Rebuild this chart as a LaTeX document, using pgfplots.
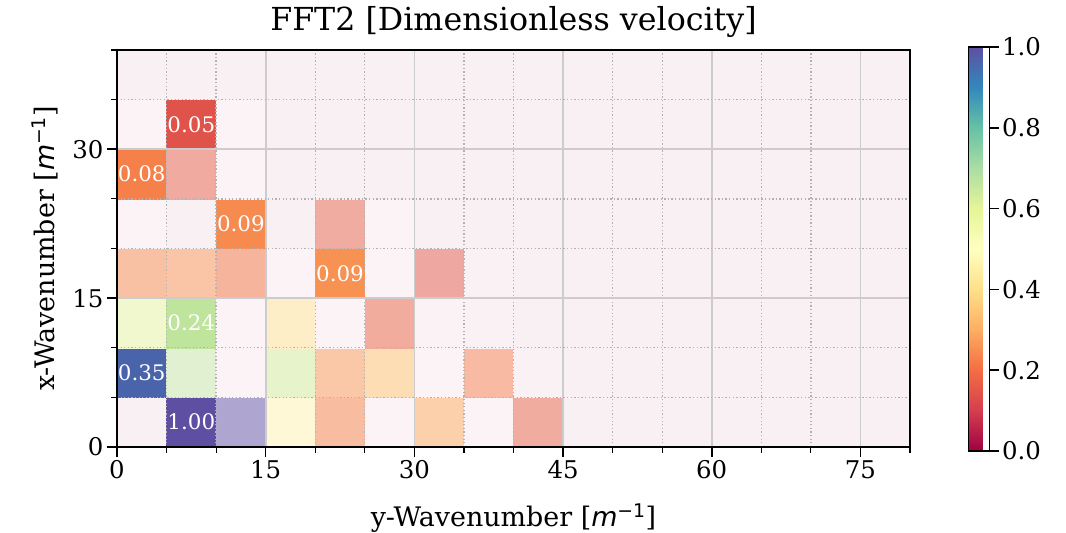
\documentclass[border=0pt]{standalone}
\usepackage{pgfplots}
\pgfplotsset{compat=1.18}
\usepackage{fontspec}
\setmainfont{DejaVu Serif}
\newfontfamily\dvsans{DejaVu Sans}

% matplotlib "Spectral"
\pgfplotsset{
  colormap={spectral}{
    rgb255(0cm)=(158,1,66); rgb255(1cm)=(213,62,79); rgb255(2cm)=(244,109,67);
    rgb255(3cm)=(253,174,97); rgb255(4cm)=(254,224,139); rgb255(5cm)=(255,255,191);
    rgb255(6cm)=(230,245,152); rgb255(7cm)=(171,221,164); rgb255(8cm)=(102,194,165);
    rgb255(9cm)=(50,136,189); rgb255(10cm)=(94,79,162)
  },
}

% bin corners (5 x 5 bins); each bin takes the colour of its lower-left corner,
% the last column (x=80) and last row (y=40) only close the mesh
\pgfplotstableread{
x y C
0 0 rgb=0.976,0.941,0.953
5 0 rgb=0.369,0.310,0.635
10 0 rgb=0.682,0.651,0.820
15 0 rgb=0.996,0.973,0.839
20 0 rgb=0.973,0.737,0.627
25 0 rgb=0.984,0.953,0.961
30 0 rgb=0.988,0.816,0.667
35 0 rgb=0.984,0.953,0.961
40 0 rgb=0.941,0.675,0.620
45 0 rgb=0.973,0.941,0.953
50 0 rgb=0.973,0.941,0.953
55 0 rgb=0.973,0.941,0.953
60 0 rgb=0.973,0.941,0.953
65 0 rgb=0.973,0.941,0.953
70 0 rgb=0.973,0.941,0.953
75 0 rgb=0.973,0.941,0.953
80 0 rgb=0.973,0.941,0.953
0 5 rgb=0.290,0.392,0.671
5 5 rgb=0.878,0.941,0.816
10 5 rgb=0.984,0.953,0.961
15 5 rgb=0.902,0.953,0.796
20 5 rgb=0.980,0.784,0.655
25 5 rgb=0.988,0.867,0.706
30 5 rgb=0.984,0.953,0.961
35 5 rgb=0.973,0.729,0.635
40 5 rgb=0.976,0.945,0.957
45 5 rgb=0.973,0.941,0.953
50 5 rgb=0.973,0.941,0.953
55 5 rgb=0.973,0.941,0.953
60 5 rgb=0.973,0.941,0.953
65 5 rgb=0.973,0.941,0.953
70 5 rgb=0.973,0.941,0.953
75 5 rgb=0.973,0.941,0.953
80 5 rgb=0.973,0.941,0.953
0 10 rgb=0.945,0.973,0.804
5 10 rgb=0.749,0.894,0.608
10 10 rgb=0.984,0.953,0.961
15 10 rgb=0.996,0.933,0.780
20 10 rgb=0.984,0.953,0.961
25 10 rgb=0.949,0.675,0.620
30 10 rgb=0.980,0.949,0.957
35 10 rgb=0.976,0.945,0.957
40 10 rgb=0.973,0.941,0.953
45 10 rgb=0.973,0.941,0.953
50 10 rgb=0.973,0.941,0.953
55 10 rgb=0.973,0.941,0.953
60 10 rgb=0.973,0.941,0.953
65 10 rgb=0.973,0.941,0.953
70 10 rgb=0.973,0.941,0.953
75 10 rgb=0.973,0.941,0.953
80 10 rgb=0.973,0.941,0.953
0 15 rgb=0.973,0.757,0.639
5 15 rgb=0.980,0.769,0.651
10 15 rgb=0.969,0.706,0.612
15 15 rgb=0.984,0.953,0.961
20 15 rgb=0.969,0.573,0.322
25 15 rgb=0.984,0.953,0.961
30 15 rgb=0.937,0.659,0.631
35 15 rgb=0.976,0.945,0.957
40 15 rgb=0.973,0.941,0.953
45 15 rgb=0.973,0.941,0.953
50 15 rgb=0.973,0.941,0.953
55 15 rgb=0.973,0.941,0.953
60 15 rgb=0.973,0.941,0.953
65 15 rgb=0.973,0.941,0.953
70 15 rgb=0.973,0.941,0.953
75 15 rgb=0.973,0.941,0.953
80 15 rgb=0.973,0.941,0.953
0 20 rgb=0.984,0.953,0.961
5 20 rgb=0.973,0.941,0.953
10 20 rgb=0.965,0.541,0.310
15 20 rgb=0.973,0.941,0.953
20 20 rgb=0.941,0.675,0.627
25 20 rgb=0.984,0.953,0.961
30 20 rgb=0.973,0.941,0.953
35 20 rgb=0.973,0.941,0.953
40 20 rgb=0.973,0.941,0.953
45 20 rgb=0.973,0.941,0.953
50 20 rgb=0.973,0.941,0.953
55 20 rgb=0.973,0.941,0.953
60 20 rgb=0.973,0.941,0.953
65 20 rgb=0.973,0.941,0.953
70 20 rgb=0.973,0.941,0.953
75 20 rgb=0.973,0.941,0.953
80 20 rgb=0.973,0.941,0.953
0 25 rgb=0.961,0.502,0.286
5 25 rgb=0.941,0.667,0.627
10 25 rgb=0.984,0.953,0.961
15 25 rgb=0.973,0.941,0.953
20 25 rgb=0.973,0.941,0.953
25 25 rgb=0.973,0.941,0.953
30 25 rgb=0.973,0.941,0.953
35 25 rgb=0.973,0.941,0.953
40 25 rgb=0.973,0.941,0.953
45 25 rgb=0.973,0.941,0.953
50 25 rgb=0.973,0.941,0.953
55 25 rgb=0.973,0.941,0.953
60 25 rgb=0.973,0.941,0.953
65 25 rgb=0.973,0.941,0.953
70 25 rgb=0.973,0.941,0.953
75 25 rgb=0.973,0.941,0.953
80 25 rgb=0.973,0.941,0.953
0 30 rgb=0.984,0.953,0.961
5 30 rgb=0.878,0.325,0.294
10 30 rgb=0.984,0.953,0.961
15 30 rgb=0.973,0.941,0.953
20 30 rgb=0.973,0.941,0.953
25 30 rgb=0.973,0.941,0.953
30 30 rgb=0.973,0.941,0.953
35 30 rgb=0.973,0.941,0.953
40 30 rgb=0.973,0.941,0.953
45 30 rgb=0.973,0.941,0.953
50 30 rgb=0.973,0.941,0.953
55 30 rgb=0.973,0.941,0.953
60 30 rgb=0.973,0.941,0.953
65 30 rgb=0.973,0.941,0.953
70 30 rgb=0.973,0.941,0.953
75 30 rgb=0.973,0.941,0.953
80 30 rgb=0.973,0.941,0.953
0 35 rgb=0.973,0.941,0.953
5 35 rgb=0.973,0.941,0.953
10 35 rgb=0.973,0.941,0.953
15 35 rgb=0.973,0.941,0.953
20 35 rgb=0.973,0.941,0.953
25 35 rgb=0.973,0.941,0.953
30 35 rgb=0.973,0.941,0.953
35 35 rgb=0.973,0.941,0.953
40 35 rgb=0.973,0.941,0.953
45 35 rgb=0.973,0.941,0.953
50 35 rgb=0.973,0.941,0.953
55 35 rgb=0.973,0.941,0.953
60 35 rgb=0.973,0.941,0.953
65 35 rgb=0.973,0.941,0.953
70 35 rgb=0.973,0.941,0.953
75 35 rgb=0.973,0.941,0.953
80 35 rgb=0.973,0.941,0.953
0 40 rgb=0.973,0.941,0.953
5 40 rgb=0.973,0.941,0.953
10 40 rgb=0.973,0.941,0.953
15 40 rgb=0.973,0.941,0.953
20 40 rgb=0.973,0.941,0.953
25 40 rgb=0.973,0.941,0.953
30 40 rgb=0.973,0.941,0.953
35 40 rgb=0.973,0.941,0.953
40 40 rgb=0.973,0.941,0.953
45 40 rgb=0.973,0.941,0.953
50 40 rgb=0.973,0.941,0.953
55 40 rgb=0.973,0.941,0.953
60 40 rgb=0.973,0.941,0.953
65 40 rgb=0.973,0.941,0.953
70 40 rgb=0.973,0.941,0.953
75 40 rgb=0.973,0.941,0.953
80 40 rgb=0.973,0.941,0.953
}\cells

% annotated amplitudes (bin centres)
\pgfplotstableread{
x y v
7.5 2.5 1.00
2.5 7.5 0.35
7.5 12.5 0.24
22.5 17.5 0.09
12.5 22.5 0.09
2.5 27.5 0.08
7.5 32.5 0.05
}\peaks

\begin{document}
\begin{tikzpicture}
\useasboundingbox (-117bp,-86bp) rectangle (949bp,447bp);
\begin{axis}[
  at={(0,0)}, anchor=south west,
  scale only axis, width=793bp, height=397bp,
  xmin=0, xmax=80, ymin=0, ymax=40,
  enlargelimits=false,
  axis on top,
  xtick={0,15,...,75}, ytick={0,15,30},
  minor xtick={5,10,20,25,35,40,50,55,65,70,80},
  minor ytick={5,10,20,25,35,40},
  grid=both,
  major grid style={draw=black!20, line width=1.7bp},
  minor grid style={draw=black!30, line width=1.3bp, dash pattern=on 1.3bp off 2.3bp},
  axis line style={black, line width=1.5bp},
  tick align=outside,
  xtick pos=bottom, ytick pos=left,
  major tick length=10bp, minor tick length=5.5bp,
  major tick style={black, line width=1.5bp},
  minor tick style={black, line width=1.2bp},
  /pgf/number format/assume math mode=true,
  tick label style={font=\fontsize{24.5}{24.5}\selectfont},
  title={FFT2 [Dimensionless velocity]},
  title style={font=\fontsize{31.8}{31.8}\selectfont, at={(axis description cs:0.5,1.0554)}, anchor=center},
  xlabel={y-Wavenumber [{\dvsans\itshape m}\textsuperscript{\dvsans −1}]},
  ylabel={x-Wavenumber [{\dvsans\itshape m}\textsuperscript{\dvsans −1}]},
  label style={font=\fontsize{27}{27}\selectfont},
  xlabel style={at={(axis description cs:0.5,-0.1788)}, anchor=center},
  ylabel style={at={(axis description cs:-0.0908,0.5)}, anchor=center, rotate=0},
  colorbar,
  colormap name=spectral,
  point meta min=0, point meta max=1,
  colorbar style={
    at={(parent axis.south east)}, anchor=south west,
    xshift=50bp, yshift=-4bp,
    scale only axis, width=21bp, height=404bp,
    ytick={0,0.2,0.4,0.6,0.8,1},
    ytick pos=right,
    yticklabel style={font=\fontsize{24.5}{24.5}\selectfont,
      /pgf/number format/.cd, fixed, fixed zerofill, precision=1, assume math mode=true},
    axis line style={black, line width=1.5bp},
    tick align=outside, major tick length=9bp,
    major tick style={black, line width=1.5bp},
  },
]
\addplot[surf, shader=flat corner, mesh/cols=17, mesh/rows=9,
  mesh/color input=explicit, point meta=explicit symbolic]
  table[x=x, y=y, meta=C] {\cells};
\addplot[draw=none, mark=none, point meta=explicit,
  nodes near coords={\pgfmathprintnumber[fixed, fixed zerofill, precision=2]{\pgfplotspointmeta}},
  nodes near coords align=center,
  every node near coord/.append style={font=\fontsize{21.5}{21.5}\selectfont, text=white, anchor=center}]
  table[x=x, y=y, meta=v] {\peaks};
\end{axis}
\end{tikzpicture}
\end{document}
